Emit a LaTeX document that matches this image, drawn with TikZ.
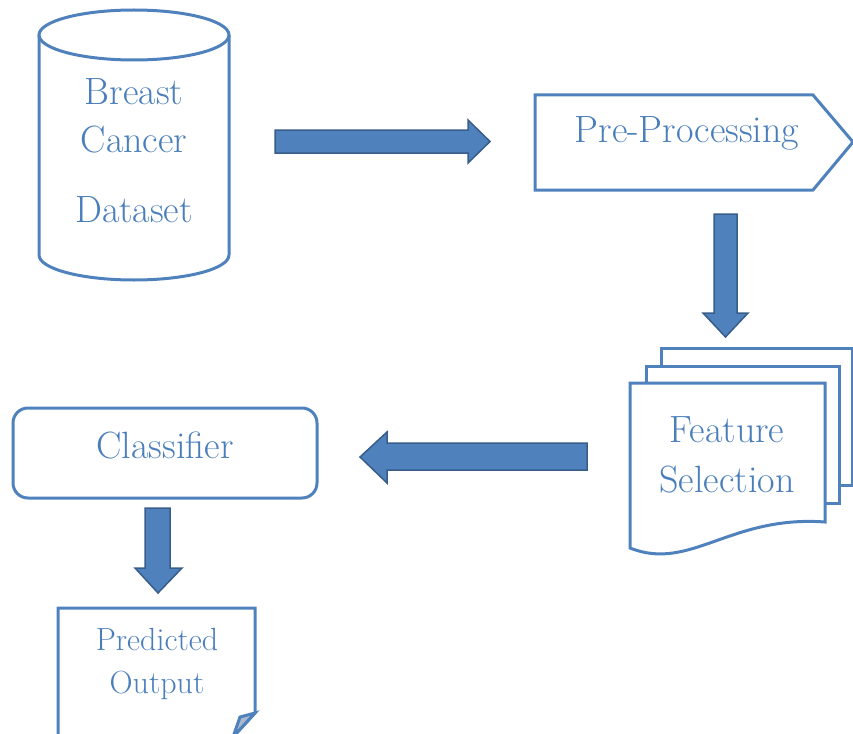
\documentclass[tikz,border=0pt]{standalone}
\definecolor{shapeblue}{HTML}{4F81BD}
\definecolor{arrowfill}{HTML}{4F81BD}
\definecolor{arrowline}{HTML}{385D8A}
\definecolor{textblue}{HTML}{4A7EBB}
\definecolor{foldfill}{HTML}{A9B8CC}
\begin{document}
\begin{tikzpicture}[x=1pt,y=-1pt,
  outl/.style={draw=shapeblue, line width=3pt, line join=miter},
  lbl/.style={text=textblue, font=\fontsize{38}{44}\selectfont, inner sep=0pt},
  lblsmall/.style={text=textblue, font=\fontsize{32}{38}\selectfont, inner sep=0pt},
  barrow/.style={fill=arrowfill, draw=arrowline, line width=1.5pt, line join=miter}]
\useasboundingbox (0,0) rectangle (853,733);

% Dataset cylinder
\draw[outl, fill=white] (134,35) ellipse [x radius=95, y radius=25];
\draw[outl] (39,35) -- (39,255) arc[start angle=180, end angle=0, x radius=95, y radius=25] -- (229,35);
\node[lbl] (breast) at (134,92) {Breast};
\node[lbl] (cancer) at (134,140) {Cancer};
\node[lbl] (dataset) at (134,210) {Dataset};

% Pre-Processing
\draw[outl] (535,95) -- (813,95) -- (853,142) -- (813,190) -- (535,190) -- cycle;
\node[lbl] (pre) at (687,133) {Pre-Processing};

% Feature Selection (multi-document)
\draw[outl, fill=white] (661,348) rectangle (852,485);
\draw[outl, fill=white] (646,366) rectangle (839,503);
\draw[outl, fill=white] (630,383) -- (825,383) -- (825,522)
   .. controls (730,515) and (690,572) .. (630,548) -- cycle;
\node[lbl] (feat1) at (727,430) {Feature};
\node[lbl] (feat2) at (727,480) {Selection};

% Classifier
\draw[outl, rounded corners=15pt] (13,408) rectangle (317,498);
\node[lbl] (cls) at (165,445) {Classifier};

% Predicted Output
\draw[outl] (58,740) -- (58,608) -- (255,608) -- (255,713) -- (233,737);
\draw[outl, fill=foldfill] (255,713) -- (240,717) -- (233,737) -- cycle;
\node[lblsmall] (pred1) at (157,640) {Predicted};
\node[lblsmall] (pred2) at (157,685) {Output};

% Block arrows
\draw[barrow] (275,130) -- (468,130) -- (468,120) -- (490,141.5) -- (468,163) -- (468,153) -- (275,153) -- cycle;
\draw[barrow] (714,214) -- (737,214) -- (737,313) -- (748,313) -- (725.5,337) -- (703,313) -- (714,313) -- cycle;
\draw[barrow] (587,443) -- (387,443) -- (387,432) -- (360,457) -- (387,483) -- (387,470) -- (587,470) -- cycle;
\draw[barrow] (145,508) -- (170,508) -- (170,568) -- (182,568) -- (158,593) -- (135,568) -- (145,568) -- cycle;
\end{tikzpicture}
\end{document}
